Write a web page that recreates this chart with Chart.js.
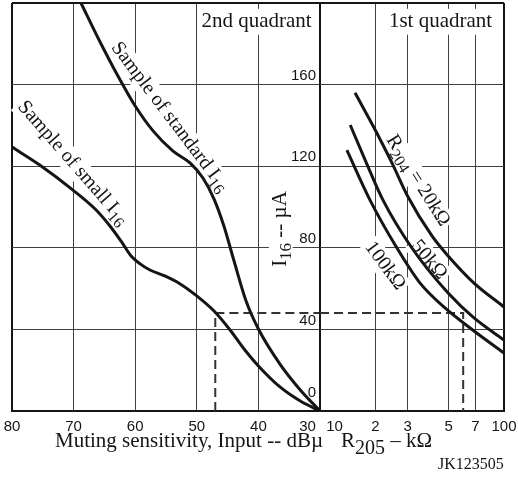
<!DOCTYPE html>
<html>
<head>
<meta charset="utf-8">
<script src="https://cdn.jsdelivr.net/npm/chart.js@4.4.0/dist/chart.umd.min.js"></script>
<style>
  html, body { margin: 0; padding: 0; background: #fff; }
  #wrap { position: relative; width: 518px; height: 477px; overflow: hidden; }
  .box { position: absolute; top: 0; height: 477px; }
  #left { left: 0; width: 330px; }
  #right { left: 310px; width: 208px; }
</style>
</head>
<body>
<div id="wrap">
  <div class="box" id="left"><canvas id="q2"></canvas></div>
  <div class="box" id="right"><canvas id="q1"></canvas></div>
</div>
<script>
// 2nd quadrant: muting sensitivity (dBµ) -> I16 (µA)
const stdInput   = [68.8, 65.7, 62.8, 60, 57.1, 53.9, 51.1, 49, 47.2, 45.6, 44, 42, 40, 36.5, 33.2, 30];
const stdI16     = [200, 180.9, 164.2, 149.5, 137.3, 127.5, 121.6, 114.2, 103.9, 90.7, 74, 53.9, 40.2, 23, 10.3, 0];
const smallInput = [80, 75.5, 70.1, 66.5, 64.1, 62.1, 60.8, 59.2, 57.6, 55.2, 52.7, 50, 47.2, 44.6, 42.2, 40, 36.5, 33.2, 30];
const smallI16   = [129.4, 120.6, 108.3, 99, 90.7, 82.4, 76.5, 72.1, 69.1, 66.2, 62.3, 56.4, 49, 39.7, 29.9, 22.1, 11.8, 4.9, 0];

// 1st quadrant: R205 (kΩ) -> I16 (µA), one curve per R204
const r20kR  = [15.5, 19.7, 24.6, 29.7, 40.6, 49.7, 68.7, 100];
const r20kI  = [156, 138.7, 121.6, 105.9, 85.8, 76, 62.7, 51];
const r50kR  = [14.6, 17.6, 22, 31.6, 49.7, 68.7, 100];
const r50kI  = [140.2, 123, 103.4, 79.9, 57.8, 45.6, 34.8];
const r100kR = [14, 18.7, 26.2, 35, 47.8, 68.7, 100];
const r100kI = [127.9, 103.4, 79.9, 62.7, 50.5, 39.2, 28.4];

// example setting (dashed)
const exInput = 47, exI16 = 48, exR205 = 60;

// axes
const dbTicks = [30, 40, 50, 60, 70, 80];
const dbTickLabels = ['30', '40', '50', '60', '70', '80'];
const rTicks = [10, 20, 30, 50, 70, 100];
const rTickLabels = ['10', '2', '3', '5', '7', '100'];
const iTicks = [0, 40, 80, 120, 160, 200];
const iTickLabels = ['0', '40', '80', '120', '160', ''];

const ink = '#151515';
const gridInk = '#404040';
const serif = '"Liberation Serif", "Times New Roman", serif';
const sans = '"Liberation Sans", Arial, sans-serif';

const pts = (xs, ys) => xs.map((x, i) => ({ x: x, y: ys[i] }));
const curve = (data) => ({ data: data, borderColor: ink, borderWidth: 3, pointRadius: 0, cubicInterpolationMode: 'monotone' });
const dashed = (data) => ({ data: data, borderColor: '#333', borderWidth: 2, borderDash: [9, 5], pointRadius: 0, tension: 0 });

// text with subscripts, centred on (cx, cy), optional white box behind
function label(ctx, parts, cx, cy, deg, pad, anchor) {
  ctx.save();
  ctx.translate(cx, cy);
  ctx.rotate(deg * Math.PI / 180);
  let w = 0;
  parts.forEach(p => { ctx.font = p[1] + 'px ' + serif; p.w = ctx.measureText(p[0]).width; w += p.w; });
  const h = parts[0][1];
  let x = anchor === 'left' ? 0 : -w / 2;
  const base = h * 0.33;
  if (pad != null) {
    ctx.fillStyle = '#fff';
    ctx.fillRect(x - pad, base - h * 0.72 - pad, w + 2 * pad, h * 0.95 + 2 * pad);
  }
  ctx.fillStyle = ink;
  ctx.textBaseline = 'alphabetic';
  ctx.textAlign = 'left';
  parts.forEach(p => {
    ctx.font = p[1] + 'px ' + serif;
    ctx.fillText(p[0], x, base + (p[2] || 0));
    x += p.w;
  });
  ctx.restore();
}

function yScale(show) {
  return {
    position: 'right',
    min: 0, max: 200,
    afterBuildTicks: s => { s.ticks = iTicks.map(v => ({ value: v })); },
    afterFit: s => { s.width = 0; s.paddingTop = 0; s.paddingBottom = 0; },
    grid: {
      drawTicks: false,
      color: c => (c.tick && c.tick.value === 200) ? ink : gridInk,
      lineWidth: c => (c.tick && c.tick.value === 200) ? 2 : 1
    },
    border: { display: show, color: ink, width: 2 },
    ticks: {
      display: show, mirror: true, padding: -4, labelOffset: -9, autoSkip: false,
      color: ink, font: { family: sans, size: 15 },
      callback: (v, i) => i === 0 ? [iTickLabels[i], ''] : iTickLabels[i]
    }
  };
}

function xFit(s) { s.height = 30; s.paddingLeft = 0; s.paddingRight = 0; }

const common = {
  responsive: true,
  maintainAspectRatio: false,
  animation: false,
  plugins: { legend: { display: false }, tooltip: { enabled: false } }
};

new Chart(document.getElementById('q2'), {
  type: 'line',
  data: {
    datasets: [
      curve(pts(stdInput, stdI16)),
      curve(pts(smallInput, smallI16)),
      dashed([{ x: exInput, y: 0 }, { x: exInput, y: exI16 }, { x: 30, y: exI16 }])
    ]
  },
  options: Object.assign({}, common, {
    layout: { padding: { left: 12, right: 10, top: 3, bottom: 36 } },
    scales: {
      x: {
        type: 'linear', reverse: true, min: 30, max: 80,
        afterBuildTicks: s => { s.ticks = dbTicks.map(v => ({ value: v })); },
        afterFit: xFit,
        grid: {
          drawTicks: false,
          color: c => (c.tick && (c.tick.value === 80 || c.tick.value === 30)) ? ink : gridInk,
          lineWidth: c => (c.tick && (c.tick.value === 80 || c.tick.value === 30)) ? 2 : 1
        },
        border: { color: ink, width: 2 },
        ticks: {
          autoSkip: false, maxRotation: 0, padding: 7, color: ink,
          font: { family: sans, size: 15 },
          callback: v => v === 30 ? dbTickLabels[0] + '      ' : dbTickLabels[dbTicks.indexOf(v)]
        }
      },
      y: yScale(true)
    }
  }),
  plugins: [{
    id: 'q2text',
    beforeDatasetsDraw(chart) {
      const ctx = chart.ctx;
      label(ctx, [['2nd quadrant', 21]], 256.5, 20, 0, 3);
      label(ctx, [['Sample of standard I', 20], ['16', 16, 5]], 171, 116, 52.8, 2);
      label(ctx, [['Sample of small I', 20], ['16', 16, 5]], 74, 162, 48.8, 2);
      label(ctx, [['I', 21], ['16', 17, 5], [' -- \u00b5A', 21]], 279, 229, -90, 2);
    },
    afterDraw(chart) {
      label(chart.ctx, [['Muting sensitivity, Input -- dB\u00b5', 21]], 55, 440, 0, null, 'left');
    }
  }]
});

new Chart(document.getElementById('q1'), {
  type: 'line',
  data: {
    datasets: [
      curve(pts(r20kR, r20kI)),
      curve(pts(r50kR, r50kI)),
      curve(pts(r100kR, r100kI)),
      dashed([{ x: 10, y: exI16 }, { x: exR205, y: exI16 }, { x: exR205, y: 0 }])
    ]
  },
  options: Object.assign({}, common, {
    layout: { padding: { left: 10, right: 14, top: 3, bottom: 36 } },
    scales: {
      x: {
        type: 'logarithmic', min: 10, max: 100,
        afterBuildTicks: s => { s.ticks = rTicks.map(v => ({ value: v })); },
        afterFit: xFit,
        grid: {
          drawTicks: false,
          color: c => (c.tick && (c.tick.value === 100 || c.tick.value === 10)) ? ink : gridInk,
          lineWidth: c => (c.tick && (c.tick.value === 100 || c.tick.value === 10)) ? 2 : 1
        },
        border: { color: ink, width: 2 },
        ticks: {
          autoSkip: false, maxRotation: 0, padding: 7, color: ink,
          font: { family: sans, size: 15 },
          callback: v => v === 10 ? '       ' + rTickLabels[0] : rTickLabels[rTicks.indexOf(v)]
        }
      },
      y: yScale(false)
    }
  }),
  plugins: [{
    id: 'q1text',
    beforeDatasetsDraw(chart) {
      const ctx = chart.ctx;
      label(ctx, [['1st quadrant', 21]], 130.5, 20, 0, 3);
      label(ctx, [['R', 20], ['204', 16, 5], [' = 20k\u03a9', 20]], 109, 180, 58, 2);
      label(ctx, [['50k\u03a9', 20]], 120, 259, 50, 2);
      label(ctx, [['100k\u03a9', 20]], 76, 265, 53.5, 2);
    },
    afterDraw(chart) {
      const ctx = chart.ctx;
      label(ctx, [['R', 21], ['205', 20, 7], [' \u2013 k\u03a9', 21]], 31, 440, 0, null, 'left');
      label(ctx, [['JK123505', 16]], 128, 464, 0, null, 'left');
    }
  }]
});
</script>
</body>
</html>
